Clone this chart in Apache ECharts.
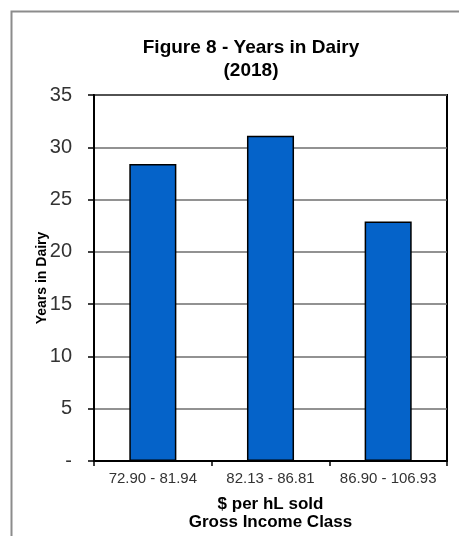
<!DOCTYPE html>
<html>
<head>
<meta charset="utf-8">
<script src="https://cdn.jsdelivr.net/npm/echarts@6/dist/echarts.min.js"></script>
<style>
  html, body { margin: 0; padding: 0; background: #fff; }
  #chart { width: 459px; height: 536px; }
</style>
</head>
<body>
<div id="chart"></div>
<script>
// data
const categories = ['72.90 - 81.94', '82.13 - 86.81', '86.90 - 106.93'];
const yearsInDairy = [28.4, 31.1, 22.9];
const yTicks = { min: 0, max: 35, interval: 5 };

let chart = echarts.init(document.querySelector('#chart'));
const font = 'Arial, "Liberation Sans", sans-serif';

let option = {
    animation: false,
    graphic: [
        {
            type: 'rect',
            shape: { x: 11.5, y: 11.5, width: 470, height: 560 },
            style: { fill: 'none', stroke: '#8c8c8c', lineWidth: 2 },
            z: 0
        }
    ],
    title: {
        text: 'Figure 8 - Years in Dairy\n(2018)',
        left: 246,
        top: 31,
        textAlign: 'center',
        textStyle: { fontFamily: font, fontSize: 19, fontWeight: 'bold', color: '#000', lineHeight: 23 }
    },
    grid: {
        left: 94, right: 12, top: 95, bottom: 69,
        show: true,
        borderColor: '#000',
        borderWidth: 2,
        containLabel: false
    },
    xAxis: {
        type: 'category',
        data: categories,
        name: '$ per hL sold\nGross Income Class',
        nameLocation: 'middle',
        nameGap: 34,
        nameMoveOverlap: false,
        nameTextStyle: { fontFamily: font, fontSize: 17, fontWeight: 'bold', color: '#000', lineHeight: 18 },
        axisLine: { lineStyle: { color: '#000', width: 2 } },
        axisTick: { show: true, inside: false, interval: 0, length: 5, lineStyle: { color: '#000', width: 1.5 } },
        axisLabel: { fontFamily: font, fontSize: 15, color: '#333', margin: 10, interval: 0, hideOverlap: false }
    },
    yAxis: {
        type: 'value',
        min: yTicks.min,
        max: yTicks.max,
        interval: yTicks.interval,
        name: 'Years in Dairy',
        nameLocation: 'middle',
        nameGap: 45,
        nameMoveOverlap: false,
        nameTextStyle: { fontFamily: font, fontSize: 14, fontWeight: 'bold', color: '#000' },
        axisLine: { show: true, lineStyle: { color: '#000', width: 2 } },
        axisTick: { show: true, inside: false, length: 6, lineStyle: { color: '#000', width: 1.5 } },
        axisLabel: {
            fontFamily: font, fontSize: 20, color: '#333', margin: 22,
            formatter: (v) => v === 0 ? '-' : v
        },
        splitLine: { show: true, lineStyle: { color: '#6e6e6e', width: 1.5 } }
    },
    series: [
        {
            name: 'Years in Dairy',
            type: 'bar',
            data: yearsInDairy,
            barWidth: '40%',
            itemStyle: {
                color: '#0563c9',
                borderColor: '#000',
                borderWidth: 1.5
            }
        }
    ]
};
chart.setOption(option);

window.onresize = function () {
    chart.resize();
};
</script>
</body>
</html>
